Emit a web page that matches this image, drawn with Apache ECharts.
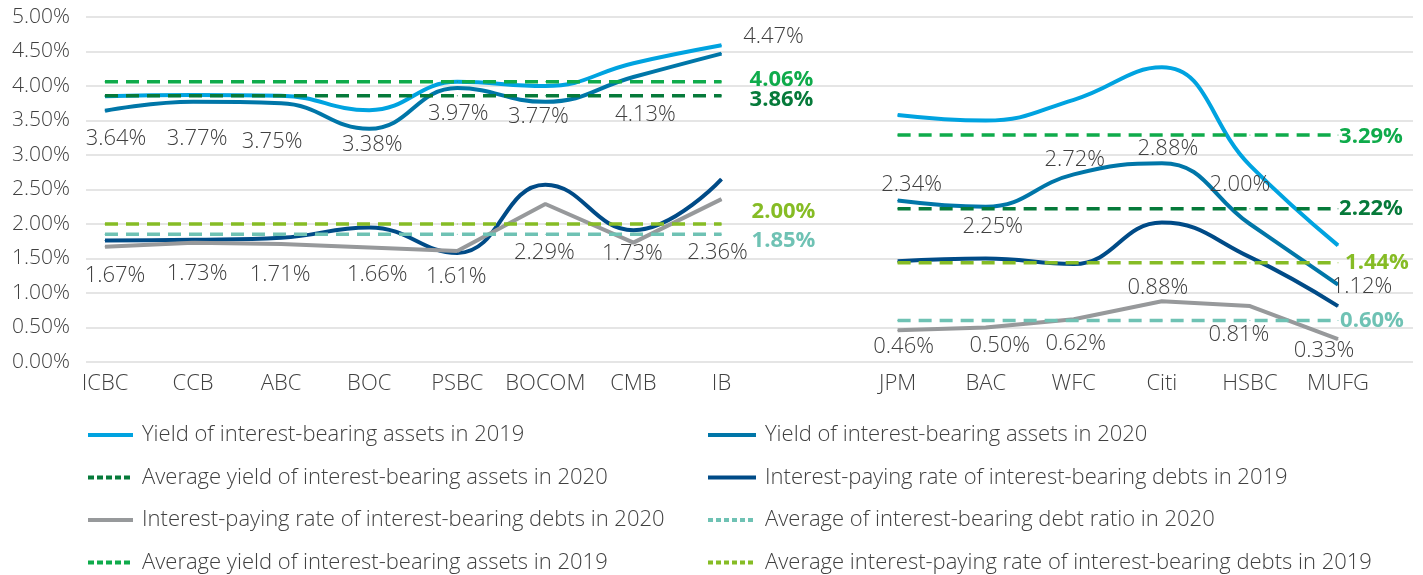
<!DOCTYPE html>
<html>
<head>
<meta charset="utf-8">
<script src="https://cdn.jsdelivr.net/npm/echarts@6/dist/echarts.min.js"></script>
<style>
  html, body { margin: 0; padding: 0; background: #fff; }
  #chart { width: 1423px; height: 575px; }
</style>
</head>
<body>
<div id="chart"></div>
<script>
// chinese banks (left block) and foreign banks (right block)
var cnBanks = ['ICBC', 'CCB', 'ABC', 'BOC', 'PSBC', 'BOCOM', 'CMB', 'IB'];
var intlBanks = ['JPM', 'BAC', 'WFC', 'Citi', 'HSBC', 'MUFG'];

// yield of interest-bearing assets
var yield2019Cn = [3.85, 3.87, 3.86, 3.65, 4.06, 4.00, 4.33, 4.59];
var yield2019Intl = [3.58, 3.50, 3.80, 4.27, 2.85, 1.69];
var yield2020Cn = [3.64, 3.77, 3.75, 3.38, 3.97, 3.77, 4.13, 4.47];
var yield2020Intl = [2.34, 2.25, 2.72, 2.88, 2.00, 1.12];

// interest-paying rate of interest-bearing debts
var paying2019Cn = [1.76, 1.77, 1.80, 1.95, 1.58, 2.57, 1.91, 2.65];
var paying2019Intl = [1.46, 1.50, 1.42, 2.02, 1.52, 0.81];
var paying2020Cn = [1.67, 1.73, 1.71, 1.66, 1.61, 2.29, 1.73, 2.36];
var paying2020Intl = [0.46, 0.50, 0.62, 0.88, 0.81, 0.33];

// averages [chinese banks, foreign banks]
var avgYield2019 = [4.06, 3.29];
var avgYield2020 = [3.86, 2.22];
var avgPaying2019 = [2.00, 1.44];
var avgDebt2020 = [1.85, 0.60];

// label nudges (px) so labels sit like the original
var yield2020OffCn = [[11, 28], [4, 37], [-9, 38], [3, 16], [1, 26], [-7, 15], [12, 38], [52, -17]];
var yield2020OffIntl = [[14, -16], [7, 20], [1, -15], [6, -15], [-10, -39], [24, 2]];
var paying2020OffCn = [[10, 29], [4, 31], [-1, 31], [8, 27], [-1, 26], [-1, 49], [-1, 11], [-4, 54]];
var paying2020OffIntl = [[6, 16], [14, 18], [2, 25], [-4, -14], [-11, 29], [-14, 12]];

var categories = cnBanks.concat([''], intlBanks);
var txt = '#404040';
var font = 'Open Sans';

function joinBlocks(a, b) {
  return a.concat(['-'], b);
}

function labelled(values, offsets) {
  return values.map(function (v, i) {
    return { value: v, label: { show: true, position: 'inside', offset: offsets[i] } };
  });
}

function avgData(pair, offL, offR) {
  var d = [];
  cnBanks.forEach(function () { d.push(pair[0]); });
  d.push('-');
  intlBanks.forEach(function () { d.push(pair[1]); });
  var li = cnBanks.length - 1, ri = d.length - 1;
  d[li] = { value: pair[0], label: { show: true, position: 'inside', offset: offL } };
  d[ri] = { value: pair[1], label: { show: true, position: 'inside', offset: offR } };
  return d;
}

function solid(name, color, data, smooth) {
  return {
    name: name, type: 'line', xAxisIndex: 1, yAxisIndex: 1,
    data: data, smooth: smooth ? 0.45 : false,
    symbol: 'circle', symbolSize: 1, showSymbol: true,
    itemStyle: { color: color },
    lineStyle: { color: color, width: 4 },
    label: { show: false, color: txt, fontSize: 22, fontFamily: font, fontWeight: 300,
             formatter: function (p) { return p.value.toFixed(2) + '%'; } },
    emphasis: { disabled: true },
    z: 2
  };
}

function dashed(name, color, data) {
  return {
    name: name, type: 'line', xAxisIndex: 1, yAxisIndex: 1,
    data: data,
    symbol: 'circle', symbolSize: 1, showSymbol: true,
    itemStyle: { color: color },
    lineStyle: { color: color, width: 3.5, type: [13, 8] },
    label: { show: false, color: color, fontSize: 22, fontFamily: font, fontWeight: 'bold',
             formatter: function (p) { return p.value.toFixed(2) + '%'; } },
    emphasis: { disabled: true },
    z: 3
  };
}

var C = {
  lightBlue: '#00a3e0',
  midBlue: '#0076a8',
  navy: '#004b87',
  gray: '#97999b',
  green: '#0fab4b',
  darkGreen: '#067a3a',
  lime: '#86bc25',
  teal: '#6fc2b4'
};

var names = {
  y19: 'Yield of interest-bearing assets in 2019',
  y20: 'Yield of interest-bearing assets in 2020',
  ay20: 'Average yield of interest-bearing assets in 2020',
  p19: 'Interest-paying rate of interest-bearing debts in 2019',
  p20: 'Interest-paying rate of interest-bearing debts in 2020',
  ad20: 'Average of interest-bearing debt ratio in 2020',
  ay19: 'Average yield of interest-bearing assets in 2019',
  ap19: 'Average interest-paying rate of interest-bearing debts in 2019'
};

var chart = echarts.init(document.getElementById('chart'), null, { renderer: 'canvas' });

var series = [
  solid(names.y19, C.lightBlue, joinBlocks(yield2019Cn, yield2019Intl), true),
  solid(names.y20, C.midBlue, joinBlocks(labelled(yield2020Cn, yield2020OffCn), labelled(yield2020Intl, yield2020OffIntl)), true),
  dashed(names.ay20, C.darkGreen, avgData(avgYield2020, [60, 4], [33, 0])),
  solid(names.p19, C.navy, joinBlocks(paying2019Cn, paying2019Intl), true),
  solid(names.p20, C.gray, joinBlocks(labelled(paying2020Cn, paying2020OffCn), labelled(paying2020Intl, paying2020OffIntl)), false),
  dashed(names.ad20, C.teal, avgData(avgDebt2020, [62, 6], [34, 0])),
  dashed(names.ay19, C.green, avgData(avgYield2019, [60, -2], [33, 2])),
  dashed(names.ap19, C.lime, avgData(avgPaying2019, [62, -12], [39, 0]))
];

var legendText = { color: txt, fontSize: 22, lineHeight: 22, fontFamily: font, fontWeight: 300, padding: [0, 0, 0, 4] };

var option = {
  animation: false,
  textStyle: { fontFamily: font },
  grid: [
    { left: 86, right: 10, top: 17, height: 345 },
    { left: 105, right: 85, top: 17, height: 345 }
  ],
  xAxis: [
    { gridIndex: 0, type: 'value', min: 0, max: 1, show: false },
    {
      gridIndex: 1, type: 'category', data: categories, boundaryGap: false,
      axisLine: { show: false }, axisTick: { show: false }, splitLine: { show: false },
      axisLabel: { interval: 0, color: txt, fontSize: 22, fontFamily: font, fontWeight: 300, margin: 11 }
    }
  ],
  yAxis: [
    {
      gridIndex: 0, type: 'value', min: 0, max: 5, interval: 0.5,
      axisLine: { show: false }, axisTick: { show: false },
      axisLabel: {
        color: txt, fontSize: 21, fontFamily: font, fontWeight: 300, margin: 16,
        formatter: function (v) { return v.toFixed(2) + '%'; }
      },
      splitLine: { lineStyle: { color: '#dddddd', width: 1.5 } }
    },
    { gridIndex: 1, type: 'value', min: 0, max: 5, interval: 0.5, show: false, splitLine: { show: false } }
  ],
  legend: [
    {
      orient: 'vertical', left: 86, top: 424, padding: 0, itemWidth: 45, itemHeight: 14, itemGap: 20.5,
      itemStyle: { opacity: 0 }, textStyle: legendText, selectedMode: false,
      data: [
        { name: names.y19, lineStyle: { width: 4 } },
        { name: names.ay20, lineStyle: { width: 4, type: [6, 3] } },
        { name: names.p20, lineStyle: { width: 4 } },
        { name: names.ay19, lineStyle: { width: 4, type: [6, 3] } }
      ]
    },
    {
      orient: 'vertical', left: 706, top: 424, padding: 0, itemWidth: 48, itemHeight: 14, itemGap: 20.5,
      itemStyle: { opacity: 0 }, textStyle: legendText, selectedMode: false,
      data: [
        { name: names.y20, lineStyle: { width: 4 } },
        { name: names.p19, lineStyle: { width: 4 } },
        { name: names.ad20, lineStyle: { width: 4, type: [5, 3] } },
        { name: names.ap19, lineStyle: { width: 4, type: [5, 3] } }
      ]
    }
  ],
  series: series
};

chart.setOption(option);
</script>
</body>
</html>
